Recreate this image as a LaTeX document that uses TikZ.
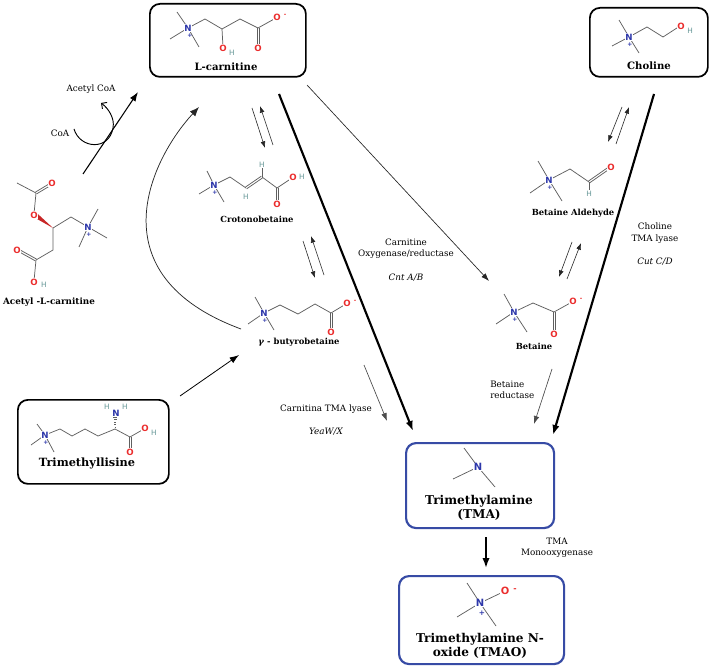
\documentclass[tikz,border=0pt]{standalone}
\usepackage{fontspec}
\setmainfont{DejaVu Serif}
\newfontfamily\atomfont{DejaVu Sans}
\usetikzlibrary{arrows.meta,calc}
\definecolor{nblue}{RGB}{45,55,170}
\definecolor{ored}{RGB}{235,45,45}
\definecolor{hteal}{RGB}{100,150,150}
\definecolor{bondgray}{RGB}{95,95,95}
\definecolor{boxblue}{RGB}{55,75,165}
\tikzset{
 bond/.style={draw=bondgray, line width=0.55pt},
 atomN/.style={font=\atomfont\bfseries\fontsize{6.5}{6.5}\selectfont, text=nblue, fill=white, inner sep=0.4pt},
 atomO/.style={font=\atomfont\bfseries\fontsize{6.5}{6.5}\selectfont, text=ored, fill=white, inner sep=0.4pt},
 atomH/.style={font=\atomfont\fontsize{5.5}{5.5}\selectfont, text=hteal, inner sep=0.3pt},
 chg/.style={font=\atomfont\bfseries\fontsize{4.5}{4.5}\selectfont, inner sep=0pt},
 lbl/.style={font=\fontsize{6.6}{8.5}\selectfont, align=center, inner sep=0pt},
 ilbl/.style={font=\itshape\fontsize{6.6}{8.5}\selectfont, align=center, inner sep=0pt},
 molname/.style={font=\bfseries\fontsize{6.3}{8}\selectfont, inner sep=0pt, align=center},
 boxname/.style={font=\bfseries\fontsize{7.6}{9}\selectfont, inner sep=0pt, align=center},
 bigname/.style={font=\bfseries\fontsize{8.8}{10.5}\selectfont, inner sep=0pt, align=center},
 kbox/.style={draw=black, line width=1.3pt, rounded corners=7.5pt, inner sep=0pt, anchor=north west},
 bbox/.style={draw=boxblue, line width=1.6pt, rounded corners=7.5pt, inner sep=0pt, anchor=north west},
 thinarr/.style={draw=black!85, line width=0.45pt, -{Latex[length=5pt,width=3.6pt]}},
 grayarr/.style={draw=black!70, line width=0.5pt, -{Latex[length=6pt,width=4.2pt]}},
 midarr/.style={draw=black, line width=0.8pt, -{Latex[length=7pt,width=5pt]}},
 thickarr/.style={draw=black, line width=1.6pt, -{Latex[length=7.5pt,width=5.5pt]}},
 curvarr/.style={draw=black!85, line width=0.55pt, -{Latex[length=7pt,width=5.5pt]}},
 hookarr/.style={draw=black, line width=0.7pt, -{Straight Barb[length=3pt,width=6pt]}},
}
\newcommand\dblbond[2]{%
  \draw[bond] ($(#1)!0.8pt!90:(#2)$) -- ($(#2)!0.8pt!-90:(#1)$);
  \draw[bond] ($(#1)!0.8pt!-90:(#2)$) -- ($(#2)!0.8pt!90:(#1)$);}
\begin{document}
\begin{tikzpicture}[x=0.75pt,y=-0.75pt]
\useasboundingbox[fill=white] (0,0) rectangle (709,666);

% ---------- boxes ----------
\node[kbox, minimum width=117pt, minimum height=54.75pt] (lcbox) at (149,3) {};
\node[kbox, minimum width=88.5pt, minimum height=51.75pt] (chbox) at (589,7) {};
\node[kbox, minimum width=113.25pt, minimum height=63pt] (tlbox) at (17,399) {};
\node[bbox, minimum width=111pt, minimum height=63.75pt] (tmabox) at (405,442) {};
\node[bbox, minimum width=123.75pt, minimum height=66pt] (tmaobox) at (398,575) {};

% ---------- L-carnitine ----------
\draw[bond] (177,12) -- (188,28) -- (170,39);
\draw[bond] (188,28) -- (199,47);
\draw[bond] (188,28) -- (205,19) -- (222,29) -- (240,19) -- (258,28) -- (276,18);
\draw[bond] (222,29) -- (223,47);
\dblbond{258,28}{258,47}
\node[atomN] (lcN) at (188,28) {N};
\node[chg, text=nblue] (lcNp) at (190,36) {+};
\node[atomO] (lcOa) at (223,48) {O};
\node[atomH] (lcH) at (232,53) {H};
\node[atomO] (lcOb) at (277,17) {O};
\node[chg, text=ored] (lcOm) at (285,15) {-};
\node[atomO] (lcOc) at (258,48) {O};
\node[boxname] (lcname) at (226,67) {L-carnitine};

% ---------- Choline ----------
\draw[bond] (619,20) -- (629,37) -- (612,46);
\draw[bond] (629,37) -- (639,53);
\draw[bond] (629,37) -- (647,27) -- (663,37) -- (680,26);
\node[atomN] (chN) at (629,37) {N};
\node[chg, text=nblue] (chNp) at (630,45) {+};
\node[atomO] (chO) at (681,26) {O};
\node[atomH] (chH) at (690,31) {H};
\node[boxname] (chname) at (649,66) {Choline};

% ---------- Betaine aldehyde ----------
\draw[bond] (538,161) -- (549,180) -- (530,193);
\draw[bond] (549,180) -- (562,201);
\draw[bond] (549,180) -- (570,169) -- (589,182);
\dblbond{589,182}{609,168}
\draw[bond] (589,182) -- (589,190);
\node[atomN] (baN) at (549,180) {N};
\node[chg, text=nblue] (baNp) at (550,188) {+};
\node[atomO] (baO) at (611,167) {O};
\node[atomH] (baH) at (589,194) {H};
\node[molname] (baname) at (573,213) {Betaine Aldehyde};

% ---------- Betaine ----------
\draw[bond] (504,294) -- (514,312) -- (496,324);
\draw[bond] (514,312) -- (527,332);
\draw[bond] (514,312) -- (533,303) -- (554,312) -- (572,302);
\dblbond{554,312}{554,333}
\node[atomN] (bN) at (514,312) {N};
\node[chg, text=nblue] (bNp) at (515,320) {+};
\node[atomO] (bOa) at (573,301) {O};
\node[chg, text=ored] (bOm) at (581,299) {-};
\node[atomO] (bOb) at (554,334) {O};
\node[molname] (bname) at (534,346) {Betaine};

% ---------- Crotonobetaine ----------
\draw[bond] (207,171) -- (214,185) -- (199,194);
\draw[bond] (214,185) -- (224,202);
\draw[bond] (214,185) -- (230,177) -- (246,188);
\dblbond{246,188}{262,177}
\draw[bond] (262,177) -- (277,188) -- (292,178);
\draw[bond] (262,177) -- (262,168);
\dblbond{277,188}{277,203}
\node[atomN] (crN) at (214,185) {N};
\node[chg, text=nblue] (crNp) at (215,193) {+};
\node[atomH] (crHa) at (246,197) {H};
\node[atomH] (crHb) at (262,165) {H};
\node[atomO] (crOa) at (277,204) {O};
\node[atomO] (crOb) at (293,177) {O};
\node[atomH] (crHc) at (302,177) {H};
\node[molname] (crname) at (257,219) {Crotonobetaine};

% ---------- gamma-butyrobetaine ----------
\draw[bond] (255,297) -- (264,313) -- (248,324);
\draw[bond] (264,313) -- (274,330);
\draw[bond] (264,313) -- (280,305) -- (298,314) -- (315,304) -- (331,313) -- (346,304);
\dblbond{331,313}{331,331}
\node[atomN] (gbN) at (264,313) {N};
\node[chg, text=nblue] (gbNp) at (265,321) {+};
\node[atomO] (gbOa) at (347,303) {O};
\node[chg, text=ored] (gbOm) at (355,301) {-};
\node[atomO] (gbOb) at (331,332) {O};
\node[molname] (gbname) at (299,342) {\textit{γ} - butyrobetaine};

% ---------- Acetyl-L-carnitine ----------
\draw[bond] (17,183) -- (36,193);
\dblbond{36,193}{51,184}
\draw[bond] (36,193) -- (34,214);
\fill[ored!85!black] (53,228) -- (37.4,213.6) -- (34.6,217.6) -- cycle;
\draw[bond] (53,228) -- (71,217) -- (88,227);
\draw[bond] (98,209) -- (88,227) -- (107,238);
\draw[bond] (88,227) -- (79,247);
\draw[bond] (53,228) -- (53,250) -- (36,260) -- (34,281);
\dblbond{36,260}{18,250}
\node[atomN] (alN) at (88,227) {N};
\node[chg, text=nblue] (alNp) at (89,235) {+};
\node[atomO] (alOa) at (52,183) {O};
\node[atomO] (alOb) at (34,215) {O};
\node[atomO] (alOc) at (17,250) {O};
\node[atomO] (alOd) at (34,282) {O};
\node[atomH] (alH) at (44,285) {H};
\node[molname, font=\bfseries\fontsize{6.6}{8}\selectfont] (alname) at (49,302) {Acetyl -L-carnitine};

% ---------- Trimethyllisine ----------
\draw[bond] (37,424) -- (45,435) -- (31,445);
\draw[bond] (45,435) -- (54,452);
\draw[bond] (45,435) -- (60,429) -- (72,436) -- (85,429) -- (98,436) -- (115,429) -- (130,437) -- (144,429);
\dblbond{130,437}{130,451}
\foreach \k in {0,1,2,3,4} {
  \draw[bondgray, line width=0.5pt] ({115.2-0.4-0.35*\k},{427-2.4*\k}) -- ({115.2+0.4+0.35*\k},{427-2.4*\k});
}
\node[atomN] (tlN) at (45,435) {N};
\node[chg, text=nblue] (tlNp) at (46,443) {+};
\node[atomN, fill=none] (tlNa) at (116,413) {N};
\node[atomH] (tlHa) at (107,407) {H};
\node[atomH] (tlHb) at (125,407) {H};
\node[atomO] (tlOa) at (130,452) {O};
\node[atomO] (tlOb) at (145,428) {O};
\node[atomH] (tlHc) at (154,433) {H};
\node[bigname, font=\bfseries\fontsize{8.5}{10}\selectfont] (tlname) at (87,463) {Trimethyllisine};

% ---------- TMA ----------
\draw[bond] (464,448) -- (478,467) -- (453,479);
\draw[bond] (478,467) -- (495,487);
\node[atomN, font=\atomfont\bfseries\fontsize{7.5}{7.5}\selectfont] (tmaN) at (478,467) {N};
\node[bigname, font=\bfseries\fontsize{9.1}{10.7}\selectfont] (tmaname) at (479,508) {Trimethylamine\\(TMA)};

% ---------- TMAO ----------
\draw[bond] (467,583) -- (480,603) -- (457,617);
\draw[bond] (480,603) -- (496,626);
\draw[bond] (480,603) -- (503,592);
\node[atomN, font=\atomfont\bfseries\fontsize{7.5}{7.5}\selectfont] (tmaoN) at (480,603) {N};
\node[atomO, font=\atomfont\bfseries\fontsize{7.5}{7.5}\selectfont] (tmaoO) at (505,591) {O};
\node[chg, text=ored, font=\atomfont\bfseries\fontsize{6}{6}\selectfont] (tmaoOm) at (515,590) {-};
\node[chg, text=nblue, font=\atomfont\bfseries\fontsize{5.5}{5.5}\selectfont] (tmaoNp) at (482,613) {+};
\node[bigname, font=\bfseries\fontsize{9.1}{10.7}\selectfont] (tmaoname) at (480,646) {Trimethylamine N-\\oxide (TMAO)};

% ---------- reaction labels ----------
\node[lbl] (acoa) at (91,89) {Acetyl CoA};
\node[lbl] (coa) at (60,133) {CoA};
\node[lbl] (cntlbl) at (406,249) {Carnitine\\Oxygenase/reductase};
\node[ilbl] (cntab) at (406,278) {Cnt A/B};
\node[lbl] (cutlbl) at (655,233) {Choline\\TMA lyase};
\node[ilbl] (cutcd) at (655,262) {Cut C/D};
\node[lbl, align=left, anchor=west] (brlbl) at (490,390) {Betaine\\reductase};
\node[lbl] (ctlbl) at (326,409) {Carnitina TMA lyase};
\node[ilbl] (yeaw) at (326,432) {YeaW/X};
\node[lbl] (fmolbl) at (557,548) {TMA\\Monooxygenase};

% ---------- connectors ----------
\coordinate (acS) at (83,174);   \coordinate (acE) at (138,92);
\draw[midarr] (acS) -- (acE);
\coordinate (coaS) at (74,129);  \coordinate (coaE) at (101,103);
\draw[hookarr] (coaS) .. controls (80,149) and (109,151) .. (113,128) .. controls (115,118) and (108,108) .. (coaE);
\coordinate (gbS) at (241,329);  \coordinate (gbE) at (199,107);
\draw[curvarr] (gbS) .. controls (95,275) and (150,160) .. (gbE);
\coordinate (tlS) at (180,396);  \coordinate (tlE) at (239,355);
\draw[midarr, line width=0.6pt] (tlS) -- (tlE);
\coordinate (lcS) at (279,94);   \coordinate (lcE) at (413,431);
\draw[thickarr] (lcS) -- (lcE);
\coordinate (chS) at (654,94);   \coordinate (chE) at (553,435);
\draw[thickarr] (chS) -- (chE);
\coordinate (oxS) at (307,85);   \coordinate (oxE) at (489,281);
\draw[grayarr, draw=black!85] (oxS) -- (oxE);
\coordinate (brS) at (552,369);  \coordinate (brE) at (534,424);
\draw[grayarr] (brS) -- (brE);
\coordinate (ctS) at (364,365);  \coordinate (ctE) at (387,421);
\draw[grayarr] (ctS) -- (ctE);
\coordinate (tmS) at (486,537);  \coordinate (tmE) at (486,568);
\draw[thickarr, line width=1.3pt] (tmS) -- (tmE);
% equilibrium pairs
\coordinate (e1a) at (252,108); \coordinate (e1b) at (265,148);
\coordinate (e1c) at (273,145); \coordinate (e1d) at (260,106);
\draw[thinarr] (e1a) -- (e1b); \draw[thinarr] (e1c) -- (e1d);
\coordinate (e2a) at (303,241); \coordinate (e2b) at (315,278);
\coordinate (e2c) at (324,275); \coordinate (e2d) at (311,236);
\draw[thinarr] (e2a) -- (e2b); \draw[thinarr] (e2c) -- (e2d);
\coordinate (e3a) at (622,107); \coordinate (e3b) at (608,142);
\coordinate (e3c) at (616,144); \coordinate (e3d) at (629,107);
\draw[thinarr] (e3a) -- (e3b); \draw[thinarr] (e3c) -- (e3d);
\coordinate (e4a) at (572,242); \coordinate (e4b) at (559,277);
\coordinate (e4c) at (567,279); \coordinate (e4d) at (581,243);
\draw[thinarr] (e4a) -- (e4b); \draw[thinarr] (e4c) -- (e4d);
\end{tikzpicture}
\end{document}
